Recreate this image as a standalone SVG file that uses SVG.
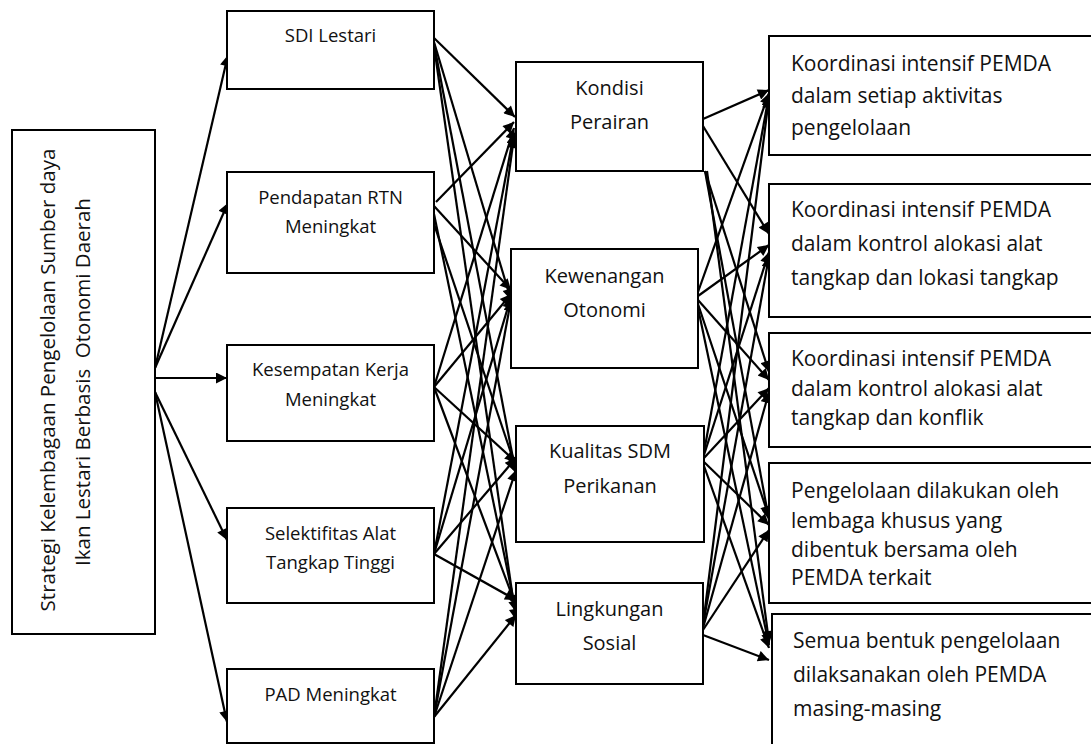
<svg xmlns="http://www.w3.org/2000/svg" width="1091" height="744" viewBox="0 0 1091 744">
<style>
.box{fill:#fff;stroke:#000;stroke-width:2}
.t{font-family:"Open Sans","Noto Sans","Liberation Sans",sans-serif;fill:#111}
.c2{font-size:18.5px;text-anchor:middle}
.c3{font-size:20px;text-anchor:middle}
.c4{font-size:21px}
.c1{font-size:20.5px;text-anchor:middle}
.con line{stroke:#000;stroke-width:2.2;marker-end:url(#ah)}
</style>
<defs>
<marker id="ah" viewBox="0 0 10 10" refX="10" refY="5" markerWidth="6" markerHeight="5" orient="auto" markerUnits="strokeWidth">
<path d="M0,0 L10,5 L0,10 Z" fill="#000"/>
</marker>
</defs>
<rect width="1091" height="744" fill="#fff"/>

<g id="connectors" class="con">
<!-- left box to column 2 -->
<line x1="155" y1="368" x2="228" y2="55"/>
<line x1="155" y1="368" x2="228" y2="203"/>
<line x1="155" y1="378" x2="227" y2="378"/>
<line x1="155" y1="392" x2="227" y2="540"/>
<line x1="155" y1="392" x2="227" y2="722"/>
<!-- column 2 to column 3 -->
<line x1="434" y1="38" x2="515" y2="117"/>
<line x1="434" y1="42" x2="511" y2="300"/>
<line x1="434" y1="44" x2="516" y2="474"/>
<line x1="434" y1="46" x2="516" y2="620"/>
<line x1="436" y1="202" x2="514" y2="122"/>
<line x1="434" y1="206" x2="511" y2="290"/>
<line x1="434" y1="224" x2="516" y2="468"/>
<line x1="434" y1="214" x2="516" y2="612"/>
<line x1="434" y1="387" x2="514" y2="128"/>
<line x1="434" y1="387" x2="511" y2="294"/>
<line x1="434" y1="387" x2="516" y2="462"/>
<line x1="434" y1="387" x2="516" y2="606"/>
<line x1="434" y1="554" x2="514" y2="133"/>
<line x1="434" y1="554" x2="511" y2="297"/>
<line x1="434" y1="554" x2="516" y2="458"/>
<line x1="434" y1="554" x2="516" y2="600"/>
<line x1="434" y1="717" x2="514" y2="137"/>
<line x1="434" y1="717" x2="511" y2="300"/>
<line x1="434" y1="717" x2="516" y2="470"/>
<line x1="434" y1="717" x2="516" y2="615"/>
<!-- column 3 to right column -->
<line x1="703" y1="119" x2="769" y2="90"/>
<line x1="703" y1="126" x2="769" y2="234"/>
<line x1="705" y1="171" x2="769" y2="372"/>
<line x1="705" y1="171" x2="769" y2="520"/>
<line x1="707" y1="171" x2="769" y2="642"/>
<line x1="698" y1="292" x2="769" y2="93"/>
<line x1="698" y1="296" x2="769" y2="245"/>
<line x1="698" y1="300" x2="769" y2="380"/>
<line x1="698" y1="304" x2="769" y2="517"/>
<line x1="698" y1="308" x2="769" y2="645"/>
<line x1="704" y1="452" x2="769" y2="95"/>
<line x1="704" y1="455" x2="769" y2="252"/>
<line x1="704" y1="458" x2="769" y2="388"/>
<line x1="704" y1="462" x2="769" y2="525"/>
<line x1="704" y1="466" x2="769" y2="648"/>
<line x1="703" y1="625" x2="769" y2="97"/>
<line x1="703" y1="625" x2="769" y2="256"/>
<line x1="703" y1="628" x2="769" y2="392"/>
<line x1="703" y1="630" x2="769" y2="530"/>
<line x1="703" y1="635" x2="769" y2="660"/>
</g>

<g id="n-strategi">
<rect class="box" x="12" y="130" width="143" height="504"/>
<text class="t c1" transform="translate(55,380) rotate(-90)">Strategi Kelembagaan Pengelolaan Sumber daya</text>
<text class="t c1" transform="translate(90,382) rotate(-90)" xml:space="preserve">Ikan Lestari Berbasis  Otonomi Daerah</text>
</g>

<g id="n-sdi">
<rect class="box" x="227" y="11" width="207" height="78"/>
<text class="t c2" x="330.5" y="42">SDI Lestari</text>
</g>
<g id="n-pendapatan">
<rect class="box" x="227" y="172" width="207" height="101"/>
<text class="t c2" x="330.5" y="204">Pendapatan RTN</text>
<text class="t c2" x="330.5" y="233">Meningkat</text>
</g>
<g id="n-kesempatan">
<rect class="box" x="227" y="345" width="207" height="96"/>
<text class="t c2" x="330.5" y="376">Kesempatan Kerja</text>
<text class="t c2" x="330.5" y="406">Meningkat</text>
</g>
<g id="n-selektifitas">
<rect class="box" x="227" y="508" width="207" height="95"/>
<text class="t c2" x="330.5" y="540">Selektifitas Alat</text>
<text class="t c2" x="330.5" y="569">Tangkap Tinggi</text>
</g>
<g id="n-pad">
<rect class="box" x="227" y="669" width="207" height="74"/>
<text class="t c2" x="330.5" y="701">PAD Meningkat</text>
</g>

<g id="n-kondisi">
<rect class="box" x="516" y="62" width="187" height="109"/>
<text class="t c3" x="609.5" y="95">Kondisi</text>
<text class="t c3" x="609.5" y="129">Perairan</text>
</g>
<g id="n-kewenangan">
<rect class="box" x="511" y="249" width="187" height="119"/>
<text class="t c3" x="604.5" y="283">Kewenangan</text>
<text class="t c3" x="604.5" y="317">Otonomi</text>
</g>
<g id="n-kualitas">
<rect class="box" x="516" y="426" width="188" height="116"/>
<text class="t c3" x="610" y="458">Kualitas SDM</text>
<text class="t c3" x="610" y="493">Perikanan</text>
</g>
<g id="n-lingkungan">
<rect class="box" x="516" y="583" width="187" height="101"/>
<text class="t c3" x="609.5" y="616">Lingkungan</text>
<text class="t c3" x="609.5" y="650">Sosial</text>
</g>

<g id="n-koordinasi1">
<rect class="box" x="769" y="36" width="330" height="119"/>
<text class="t c4" x="791" y="71">Koordinasi intensif PEMDA</text>
<text class="t c4" x="791" y="103">dalam setiap aktivitas</text>
<text class="t c4" x="791" y="135">pengelolaan</text>
</g>
<g id="n-koordinasi2">
<rect class="box" x="769" y="184" width="330" height="133"/>
<text class="t c4" x="791" y="217">Koordinasi intensif PEMDA</text>
<text class="t c4" x="791" y="251">dalam kontrol alokasi alat</text>
<text class="t c4" x="791" y="285">tangkap dan lokasi tangkap</text>
</g>
<g id="n-koordinasi3">
<rect class="box" x="769" y="333" width="330" height="114"/>
<text class="t c4" x="791" y="366">Koordinasi intensif PEMDA</text>
<text class="t c4" x="791" y="396">dalam kontrol alokasi alat</text>
<text class="t c4" x="791" y="425">tangkap dan konflik</text>
</g>
<g id="n-lembaga">
<rect class="box" x="769" y="463" width="330" height="140"/>
<text class="t c4" x="791" y="498">Pengelolaan dilakukan oleh</text>
<text class="t c4" x="791" y="528">lembaga khusus yang</text>
<text class="t c4" x="791" y="557">dibentuk bersama oleh</text>
<text class="t c4" x="791" y="585">PEMDA terkait</text>
</g>
<g id="n-semua">
<rect class="box" x="772" y="614" width="330" height="140"/>
<text class="t c4" x="793" y="648">Semua bentuk pengelolaan</text>
<text class="t c4" x="793" y="682">dilaksanakan oleh PEMDA</text>
<text class="t c4" x="793" y="716">masing-masing</text>
</g>
</svg>
